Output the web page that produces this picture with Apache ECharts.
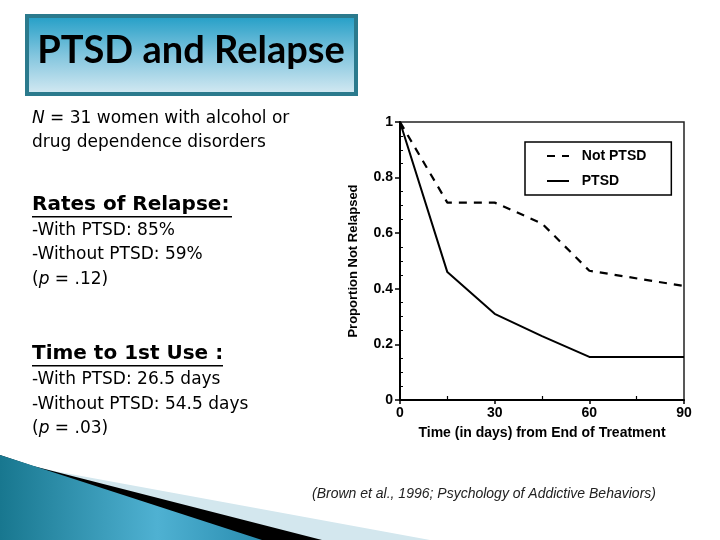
<!DOCTYPE html>
<html><head><meta charset="utf-8">
<script src="https://cdn.jsdelivr.net/npm/echarts@6/dist/echarts.min.js"></script>
<style>html,body{margin:0;padding:0;background:#fff}#c{width:720px;height:540px}</style>
</head><body><div id="c"></div>
<script>
// ---- data ----
const days = [0, 15, 30, 45, 60, 90];
const notPTSD = [1.0, 0.71, 0.71, 0.635, 0.465, 0.41];
const ptsd = [1.0, 0.46, 0.31, 0.23, 0.155, 0.155];
const seriesNames = ['Not PTSD', 'PTSD'];
const xTitle = 'Time (in days) from End of Treatment';
const yTitle = 'Proportion Not Relapsed';
const slideTitle = 'PTSD and Relapse';
const citation = '(Brown et al., 1996; Psychology of Addictive Behaviors)';

const chart = echarts.init(document.getElementById('c'), null, {renderer: 'canvas'});
const axisFont = 'Liberation Sans';
const body = 'DejaVu Sans';

function txt(x, y, text, opts) {
  return {
    type: 'text', x: x, y: y, z: 10,
    style: Object.assign({
      text: text, fill: '#000', fontSize: 17, fontFamily: body,
      verticalAlign: 'middle', align: 'left'
    }, opts || {})
  };
}
const ital = {i: {fontStyle: 'italic', fontSize: 17, fontFamily: body, fill: '#000'}};

const option = {
  backgroundColor: '#fff',
  animation: false,
  grid: {left: 400, top: 122, width: 284, height: 278, show: true,
         borderColor: '#222', borderWidth: 1.5},
  legend: {
    data: seriesNames, orient: 'vertical', left: 525, top: 142,
    padding: [7, 25, 7, 21], itemWidth: 22, itemHeight: 14, itemGap: 11,
    borderColor: '#000', borderWidth: 1.5, backgroundColor: '#fff',
    itemStyle: {opacity: 0},
    formatter: n => '  ' + n,
    textStyle: {fontFamily: axisFont, fontWeight: 'bold', fontSize: 14, color: '#000'}
  },
  xAxis: [{
    type: 'value', min: 0, max: 90, interval: 30, position: 'bottom',
    axisLine: {show: true, lineStyle: {color: '#000', width: 2}},
    axisTick: {show: true, length: 4, lineStyle: {color: '#000', width: 1.5}},
    axisLabel: {margin: 6, fontFamily: axisFont, fontWeight: 'bold', fontSize: 14, color: '#000'},
    splitLine: {show: false},
    name: xTitle, nameLocation: 'middle', nameGap: 26,
    nameTextStyle: {fontFamily: axisFont, fontWeight: 'bold', fontSize: 14, color: '#000'}
  }, {
    type: 'value', min: 0, max: 90, interval: 30, position: 'bottom',
    axisLine: {show: false}, axisLabel: {show: false},
    axisTick: {show: false, inside: true},
    minorTick: {show: true, splitNumber: 2, length: 4, lineStyle: {color: '#000', width: 1.2}},
    splitLine: {show: false}
  }],
  yAxis: [{
    type: 'value', min: 0, max: 1, interval: 0.2, position: 'left',
    axisLine: {show: true, lineStyle: {color: '#000', width: 2}},
    axisTick: {show: true, length: 5, lineStyle: {color: '#000', width: 1.5}},
    axisLabel: {margin: 7, fontFamily: axisFont, fontWeight: 'bold', fontSize: 14, color: '#000'},
    splitLine: {show: false},
    name: yTitle, nameLocation: 'middle', nameGap: 40,
    nameTextStyle: {fontFamily: axisFont, fontWeight: 'bold', fontSize: 13, color: '#000'}
  }, {
    type: 'value', min: 0, max: 1, interval: 0.2, position: 'left',
    axisLine: {show: false}, axisLabel: {show: false},
    axisTick: {show: false, inside: true},
    minorTick: {show: true, splitNumber: 4, length: 3, lineStyle: {color: '#000', width: 1}},
    splitLine: {show: false}
  }],
  series: [{
    name: seriesNames[0], type: 'line', xAxisIndex: 0, yAxisIndex: 0,
    data: days.map((d, i) => [d, notPTSD[i]]),
    symbol: 'none', color: '#000',
    lineStyle: {color: '#000', width: 2.2, type: [8, 7]}
  }, {
    name: seriesNames[1], type: 'line', xAxisIndex: 0, yAxisIndex: 0,
    data: days.map((d, i) => [d, ptsd[i]]),
    symbol: 'none', color: '#000',
    lineStyle: {color: '#000', width: 2}
  }],
  graphic: [
    // decorative swoosh bottom-left
    {type: 'polygon', z: 1, shape: {points: [[0, 458], [54, 471], [430, 540], [0, 540]]},
     style: {fill: '#d3e7ee'}},
    {type: 'polygon', z: 2, shape: {points: [[0, 455], [33, 466], [322, 540], [0, 540]]},
     style: {fill: '#000'}},
    {type: 'polygon', z: 3, shape: {points: [[0, 455], [262, 540], [0, 540]]},
     style: {fill: new echarts.graphic.LinearGradient(0, 0, 1, 0, [
       {offset: 0, color: '#18778f'}, {offset: 0.6, color: '#4fb1d2'}, {offset: 1, color: '#2a8db0'}])}},
    // title box
    {type: 'rect', z: 4, shape: {x: 27, y: 16, width: 329, height: 78},
     style: {fill: new echarts.graphic.LinearGradient(0, 0, 0, 1, [
       {offset: 0, color: '#1f9dc6'}, {offset: 0.5, color: '#82c5de'}, {offset: 1, color: '#d8ebf3'}]),
       stroke: '#2b7a8d', lineWidth: 4}},
    txt(191, 51, slideTitle, {fontFamily: 'Lato', fontWeight: 'bold', fontSize: 38, align: 'center'}),
    // left text
    txt(32, 119, '{i|N} = 31 women with alcohol or', {rich: ital}),
    txt(32, 143, 'drug dependence disorders'),
    txt(32, 205, 'Rates of Relapse:', {fontWeight: 'bold', fontSize: 20}),
    {type: 'rect', z: 10, shape: {x: 32, y: 216, width: 200, height: 1.6}, style: {fill: '#000'}},
    txt(32, 231, '-With PTSD: 85%'),
    txt(32, 255, '-Without PTSD: 59%'),
    txt(32, 280, '({i|p} = .12)', {rich: ital}),
    txt(32, 354, 'Time to 1st Use :', {fontWeight: 'bold', fontSize: 20}),
    {type: 'rect', z: 10, shape: {x: 32, y: 365, width: 191, height: 1.6}, style: {fill: '#000'}},
    txt(32, 380, '-With PTSD: 26.5 days'),
    txt(32, 405, '-Without PTSD: 54.5 days'),
    txt(32, 429, '({i|p} = .03)', {rich: ital}),
    // citation
    txt(312, 494, citation, {fontFamily: 'Liberation Sans', fontStyle: 'italic', fontSize: 14, fill: '#222'})
  ]
};
chart.setOption(option);
</script>
</body></html>
